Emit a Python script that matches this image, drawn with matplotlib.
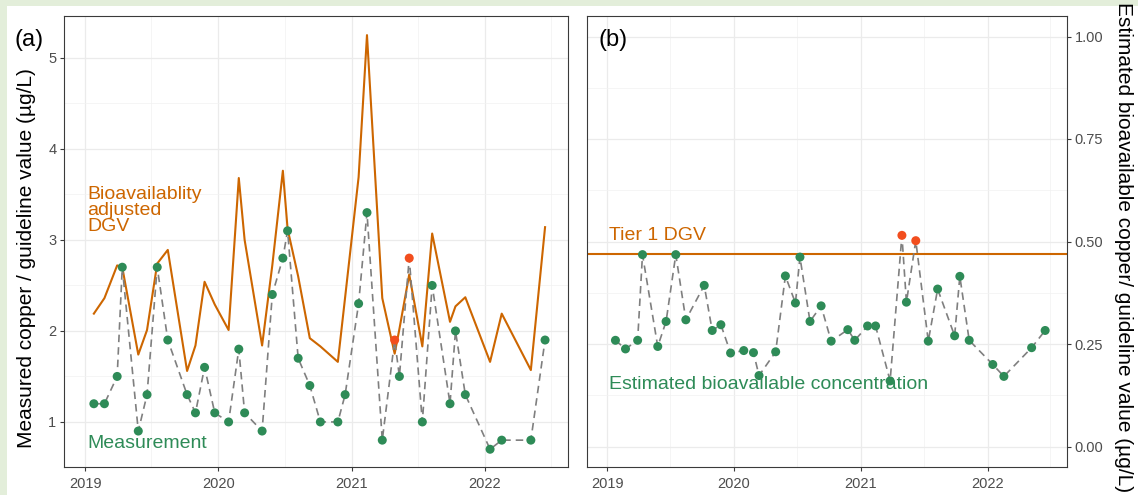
import matplotlib
matplotlib.use("Agg")
import matplotlib.pyplot as plt
import matplotlib.dates as mdates
from matplotlib.patches import Rectangle
from matplotlib.ticker import MultipleLocator, FormatStrFormatter
import datetime as dt

plt.rcParams['font.family'] = ['Liberation Sans', 'DejaVu Sans']

# ---------------- data ----------------
dates = ["2019-01-24", "2019-02-22", "2019-03-29", "2019-04-12", "2019-05-26",
         "2019-06-19", "2019-07-17", "2019-08-15", "2019-10-07", "2019-10-30",
         "2019-11-24", "2019-12-22", "2020-01-29", "2020-02-26", "2020-03-13",
         "2020-04-30", "2020-05-28", "2020-06-26", "2020-07-09", "2020-08-07",
         "2020-09-08", "2020-10-07", "2020-11-24", "2020-12-14", "2021-01-20",
         "2021-02-12", "2021-03-26", "2021-04-29", "2021-05-12", "2021-06-08",
         "2021-07-14", "2021-08-10", "2021-09-28", "2021-10-13", "2021-11-09",
         "2022-01-16", "2022-02-17", "2022-05-08", "2022-06-16"]

measured = [1.2, 1.2, 1.5, 2.7, 0.9, 1.3, 2.7, 1.9, 1.3, 1.1,
            1.6, 1.1, 1.0, 1.8, 1.1, 0.9, 2.4, 2.8, 3.1, 1.7,
            1.4, 1.0, 1.0, 1.3, 2.3, 3.3, 0.8, 1.9, 1.5, 2.8,
            1.0, 2.5, 1.2, 2.0, 1.3, 0.7, 0.8, 0.8, 1.9]

ba_dgv = [2.19, 2.36, 2.72, 2.70, 1.74, 2.01, 2.74, 2.89, 1.56, 1.84,
          2.54, 2.29, 2.01, 3.68, 3.00, 1.84, 2.72, 3.76, 3.12, 2.60,
          1.92, 1.83, 1.66, 2.37, 3.69, 5.25, 2.36, 1.75, 2.02, 2.62,
          1.83, 3.07, 2.10, 2.27, 2.37, 1.66, 2.19, 1.57, 3.14]

est_bioavail = [0.259, 0.238, 0.259, 0.468, 0.244, 0.305, 0.468, 0.309, 0.393, 0.283,
                0.297, 0.228, 0.234, 0.229, 0.173, 0.231, 0.416, 0.350, 0.462, 0.305,
                0.343, 0.257, 0.285, 0.259, 0.294, 0.294, 0.160, 0.515, 0.352, 0.502,
                0.257, 0.384, 0.270, 0.415, 0.259, 0.200, 0.171, 0.241, 0.283]

tier1_dgv = 0.47

# ---------------- styling ----------------
ORANGE = '#CD6600'
GREEN = '#2E8B57'
RED = '#F24E1E'
GREY = '#7F7F7F'
TICKLAB = '#4D4D4D'
FRAME = '#3A3A3A'

x = mdates.datestr2num(dates)

W, H = 1138, 495
fig = plt.figure(figsize=(W / 100, H / 100), dpi=100)
fig.patch.set_facecolor('#E3EEDA')
fig.patches.append(Rectangle((7 / W, 0), 1 - 7 / W, (H - 6) / H, transform=fig.transFigure,
                             facecolor='white', edgecolor='none', zorder=-5))

axA = fig.add_axes([64 / W, 28 / H, 504 / W, 451 / H])
axB = fig.add_axes([587 / W, 28 / H, 480 / W, 451 / H])

xlim = (mdates.date2num(dt.date(2018, 11, 3)), mdates.date2num(dt.date(2022, 8, 18)))

for ax in (axA, axB):
    ax.set_facecolor('white')
    ax.set_xlim(*xlim)
    ax.xaxis.set_major_locator(mdates.YearLocator())
    ax.xaxis.set_minor_locator(mdates.MonthLocator(bymonth=7))
    ax.xaxis.set_major_formatter(mdates.DateFormatter('%Y'))
    ax.grid(which='major', color='#EBEBEB', lw=0.9, zorder=0)
    ax.grid(which='minor', color='#F2F2F2', lw=0.5, zorder=0)
    ax.set_axisbelow(True)
    for s in ax.spines.values():
        s.set_color(FRAME)
        s.set_linewidth(0.8)
    ax.tick_params(which='major', length=3, width=0.8, color=FRAME,
                   labelsize=10.5, labelcolor=TICKLAB, pad=2.5)
    ax.tick_params(axis='x', which='major', pad=4)
    ax.tick_params(which='minor', length=0)

# ---- panel (a) ----
axA.set_ylim(0.505, 5.46)
axA.yaxis.set_major_locator(MultipleLocator(1))
axA.yaxis.set_minor_locator(MultipleLocator(0.5))
axA.plot(x, ba_dgv, color=ORANGE, lw=1.5, zorder=2)
axA.plot(x, measured, color=GREY, lw=1.2, dashes=(4.5, 3), zorder=2.5)
colsA = [RED if m > d else GREEN for m, d in zip(measured, ba_dgv)]
axA.scatter(x, measured, s=42, c=colsA, edgecolors='none', zorder=3)
axA.text(0.046, 0.624, 'Bioavailablity\nadjusted\nDGV', transform=axA.transAxes,
         color=ORANGE, fontsize=14, va='top', ha='left', linespacing=0.93)
axA.text(0.046, 0.051, 'Measurement', transform=axA.transAxes,
         color=GREEN, fontsize=14, va='center', ha='left')

# ---- panel (b) ----
axB.set_ylim(-0.05, 1.05)
axB.yaxis.set_major_locator(MultipleLocator(0.25))
axB.yaxis.set_minor_locator(MultipleLocator(0.125))
axB.yaxis.set_major_formatter(FormatStrFormatter('%.2f'))
axB.yaxis.tick_right()
axB.axhline(tier1_dgv, color=ORANGE, lw=1.5, zorder=2)
axB.plot(x, est_bioavail, color=GREY, lw=1.2, dashes=(4.5, 3), zorder=2.5)
colsB = [RED if v > tier1_dgv + 0.01 else GREEN for v in est_bioavail]
axB.scatter(x, est_bioavail, s=42, c=colsB, edgecolors='none', zorder=3)
axB.text(0.046, 0.514, 'Tier 1 DGV', transform=axB.transAxes,
         color=ORANGE, fontsize=14, va='center', ha='left')
axB.text(0.046, 0.182, 'Estimated bioavailable concentration', transform=axB.transAxes,
         color=GREEN, fontsize=14, va='center', ha='left')
axB.text(0.023, 0.947, '(b)', transform=axB.transAxes, color='black',
         fontsize=17, va='center', ha='left')

# ---- figure texts ----
fig.text(14 / W, (H - 40) / H, '(a)', color='black', fontsize=17, va='center', ha='left')
fig.text(27 / W, (H - 258) / H, 'Measured copper / guideline value (µg/L)',
         rotation=90, fontsize=15, va='center', ha='center', color='black')
fig.text(1123 / W, (H - 247) / H, 'Estimated bioavailable copper/ guideline value (µg/L)',
         rotation=270, fontsize=15, va='center', ha='center', color='black')

fig.savefig('out.png', dpi=100, facecolor=fig.get_facecolor())
